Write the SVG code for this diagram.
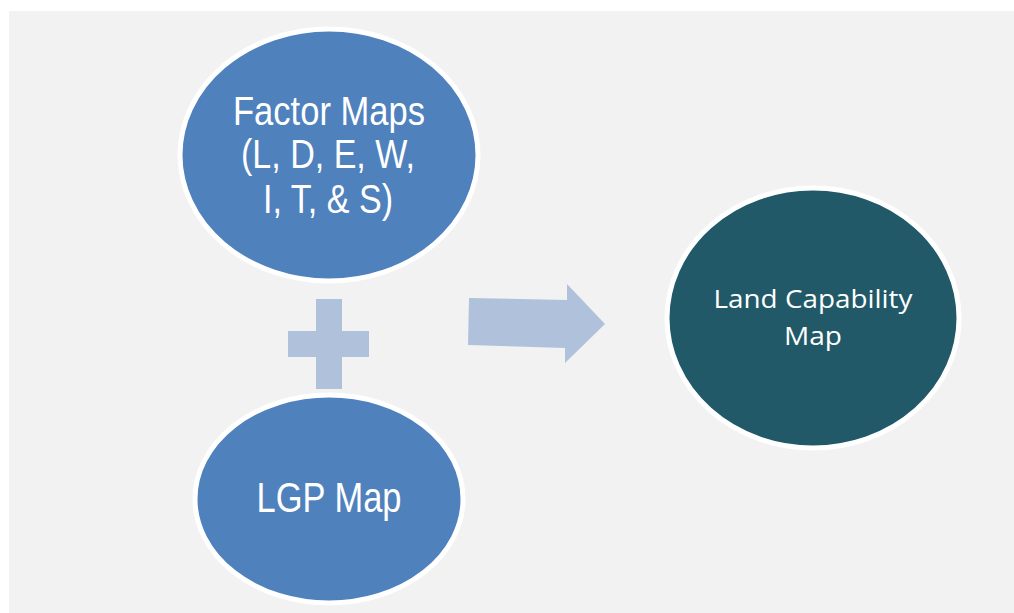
<svg xmlns="http://www.w3.org/2000/svg" width="1014" height="613" viewBox="0 0 1014 613">
  <style>
    .blue { fill: #4f81bd; stroke: #ffffff; stroke-width: 5; }
    .teal { fill: #215968; stroke: #ffffff; stroke-width: 5; }
    .shape { fill: #b0c1dc; }
    .t1 { font-family: "Liberation Sans", Arial, sans-serif; fill: #ffffff; text-anchor: middle; }
    .t2 { font-family: "Open Sans", "Noto Sans", sans-serif; fill: #ffffff; text-anchor: middle; }
  </style>
  <rect x="0" y="0" width="1014" height="613" fill="#ffffff"/>
  <rect x="9" y="11" width="1005" height="602" fill="#f2f2f2"/>
  <g id="connectors">
    <g id="plus">
      <rect class="shape" x="316" y="299" width="26" height="90"/>
      <rect class="shape" x="288" y="331" width="81" height="26"/>
    </g>
    <polygon id="arrow" class="shape" points="469,298 567,300 567,284 605,324 565,363 565,348 468,345"/>
  </g>
  <g id="factor-maps">
    <ellipse class="blue" cx="329" cy="155" rx="149" ry="126"/>
    <text class="t1" x="329" y="125" font-size="41" textLength="192" lengthAdjust="spacingAndGlyphs">Factor Maps</text>
    <text class="t1" x="328" y="168" font-size="41" textLength="174" lengthAdjust="spacingAndGlyphs">(L, D, E, W,</text>
    <text class="t1" x="328" y="213" font-size="41" textLength="130" lengthAdjust="spacingAndGlyphs">I, T, &amp; S)</text>
  </g>
  <g id="lgp-map">
    <ellipse class="blue" cx="329" cy="499" rx="134" ry="104"/>
    <text class="t1" x="329" y="512" font-size="43" textLength="145" lengthAdjust="spacingAndGlyphs">LGP Map</text>
  </g>
  <g id="land-capability-map">
    <ellipse class="teal" cx="813" cy="318" rx="146" ry="130"/>
    <text class="t2" x="813" y="308" font-size="25" textLength="199" lengthAdjust="spacingAndGlyphs">Land Capability</text>
    <text class="t2" x="813" y="345" font-size="25" textLength="58" lengthAdjust="spacingAndGlyphs">Map</text>
  </g>
</svg>
